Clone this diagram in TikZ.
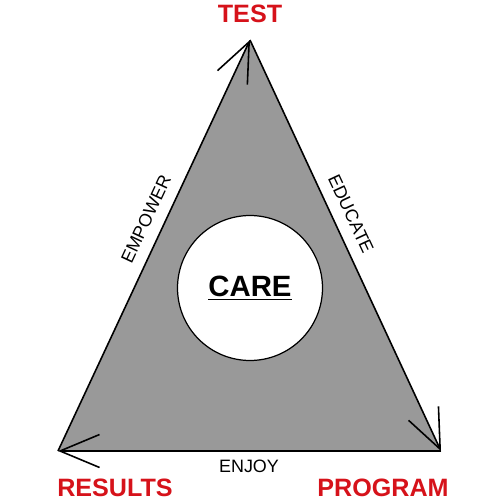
\documentclass[tikz,border=0pt]{standalone}
\usepackage{fontspec}
\setmainfont{Liberation Sans}
\usepackage{xcolor}
\usetikzlibrary{arrows.meta, positioning, calc}

\definecolor{stepred}{RGB}{214,18,26}

\begin{document}
\begin{tikzpicture}[x=0.02cm, y=-0.02cm,
  flow/.style={line width=0.9pt, -{Straight Barb[length=0.79cm, width=0.66cm, line width=0.9pt]}},
  corner/.style={text=stepred, font=\fontsize{14.3}{16}\selectfont\bfseries},
  side/.style={font=\fontsize{10.2}{12}\selectfont}]
\useasboundingbox (0,0) rectangle (500,500);

\coordinate (top) at (250,40);
\coordinate (left) at (58,451);
\coordinate (right) at (441,451);

\fill[black!40] (top) -- (right) -- (left) -- cycle;

\draw[flow] (left) -- (top);
\draw[flow] (top) -- (right);
\draw[flow] (right) -- (left);

\node (care)[circle, fill=white, draw=black, line width=0.7pt, minimum size=2.9cm, font=\fontsize{16.7}{18}\selectfont\bfseries] at (250,288) {\underline{CARE}};

\node (test)[corner] at (250,14) {TEST};
\node (results)[corner] at (115,488) {RESULTS};
\node (program)[corner] at (383,488) {PROGRAM};

\node (empower)[side, rotate=65] at (146,219) {EMPOWER};
\node (educate)[side, rotate=-65] at (351,214) {EDUCATE};
\node (enjoy)[side] at (249,466) {ENJOY};

\end{tikzpicture}
\end{document}
